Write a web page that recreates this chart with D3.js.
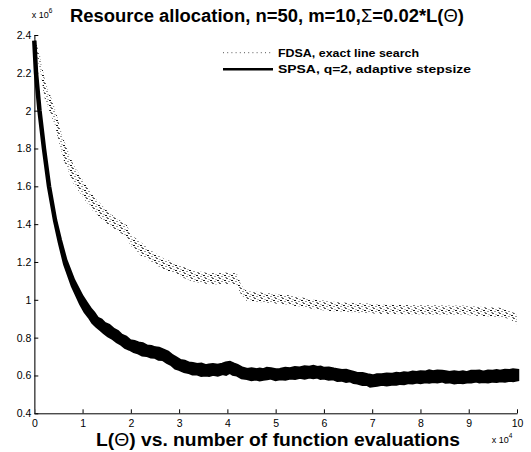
<!DOCTYPE html>
<html>
<head>
<meta charset="utf-8">
<script src="https://cdn.jsdelivr.net/npm/d3@7"></script>
<style>
body { margin: 0; background: #fff; }
text { font-family: "Liberation Sans", Arial, Helvetica, sans-serif; fill: #000; }
</style>
</head>
<body>
<script>
// values: x in units of 1e4 evaluations, L in units of 1e6
var xTicks = [0, 1, 2, 3, 4, 5, 6, 7, 8, 9, 10];
var xTickLabels = ["0", "1", "2", "3", "4", "5", "6", "7", "8", "9", "10"];
var yTicks = [0.4, 0.6, 0.8, 1.0, 1.2, 1.4, 1.6, 1.8, 2.0, 2.2, 2.4];
var yTickLabels = ["0.4", "0.6", "0.8", "1", "1.2", "1.4", "1.6", "1.8", "2", "2.2", "2.4"];

var seriesNames = ["FDSA, exact line search", "SPSA, q=2, adaptive stepsize"];

// FDSA band (upper / lower edge of the scatter)
var fdsaX  = [0.01, 0.12, 0.22, 0.43, 0.59, 0.8, 0.99, 1.22, 1.51, 1.72, 1.9, 2.0, 2.2, 2.4, 2.7, 2.87, 3.1, 3.3, 3.55, 3.74,
              3.95, 4.2, 4.28, 4.4, 4.6, 4.82, 5.1, 5.5, 5.8, 6.19, 6.5, 6.89, 7.2, 7.58, 7.9, 8.26, 8.6, 8.96, 9.3, 9.65, 9.86, 10];
var fdsaHi = [2.38, 2.29, 2.16, 2.01, 1.86, 1.72, 1.64, 1.55, 1.47, 1.425, 1.405, 1.345, 1.305, 1.265, 1.215, 1.2, 1.175, 1.155, 1.145, 1.14,
              1.145, 1.14, 1.08, 1.045, 1.042, 1.035, 1.03, 1.015, 1.0, 0.99, 0.985, 0.98, 0.975, 0.972, 0.97, 0.97, 0.968, 0.968, 0.962, 0.958, 0.945, 0.92];
var fdsaLo = [2.35, 2.21, 2.06, 1.92, 1.75, 1.62, 1.55, 1.47, 1.4, 1.365, 1.335, 1.285, 1.235, 1.205, 1.155, 1.145, 1.115, 1.095, 1.085, 1.08,
              1.085, 1.08, 1.03, 0.995, 0.99, 0.985, 0.978, 0.965, 0.95, 0.94, 0.935, 0.93, 0.925, 0.924, 0.922, 0.92, 0.92, 0.92, 0.914, 0.908, 0.9, 0.87];

// SPSA band (upper / lower edge of the noisy trace)
var spsaX  = [0, 0.035, 0.108, 0.2, 0.305, 0.43, 0.53, 0.64, 0.8, 0.97, 1.06, 1.15, 1.22, 1.3, 1.38, 1.45, 1.54, 1.63, 1.72, 1.8,
              1.89, 1.98, 2.07, 2.15, 2.24, 2.33, 2.42, 2.5, 2.58, 2.67, 2.76, 2.85, 2.93, 3.02, 3.11, 3.2, 3.28, 3.37, 3.46, 3.55,
              3.62, 3.7, 3.8, 3.9, 3.97, 4.05, 4.12, 4.2, 4.3, 4.41, 4.5, 4.6, 4.67, 4.74, 4.82, 4.9, 5.0, 5.09, 5.2, 5.3,
              5.4, 5.5, 5.6, 5.7, 5.78, 5.86, 5.93, 6.0, 6.1, 6.2, 6.28, 6.37, 6.46, 6.54, 6.62, 6.7, 6.8, 6.9, 6.96, 7.02,
              7.1, 7.2, 7.3, 7.4, 7.5, 7.58, 7.66, 7.75, 7.84, 7.92, 8.0, 8.1, 8.18, 8.26, 8.35, 8.45, 8.52, 8.6, 8.7, 8.8,
              8.88, 8.96, 9.05, 9.15, 9.22, 9.3, 9.4, 9.5, 9.58, 9.65, 9.75, 9.85, 9.92, 10];
var spsaHi = [2.37, 2.2, 2.0, 1.8, 1.6, 1.42, 1.315, 1.21, 1.105, 1.02, 0.985, 0.95, 0.93, 0.9, 0.89, 0.872, 0.862, 0.842, 0.83, 0.81,
              0.8, 0.78, 0.776, 0.768, 0.764, 0.752, 0.75, 0.742, 0.74, 0.73, 0.72, 0.702, 0.69, 0.676, 0.672, 0.662, 0.66, 0.654, 0.656, 0.648,
              0.652, 0.654, 0.65, 0.656, 0.662, 0.666, 0.658, 0.65, 0.636, 0.628, 0.632, 0.627, 0.63, 0.626, 0.634, 0.632, 0.626, 0.628, 0.634, 0.632,
              0.638, 0.636, 0.642, 0.64, 0.644, 0.638, 0.64, 0.634, 0.636, 0.63, 0.626, 0.622, 0.624, 0.618, 0.612, 0.606, 0.606, 0.6, 0.598, 0.594,
              0.6, 0.6, 0.604, 0.602, 0.608, 0.605, 0.61, 0.608, 0.614, 0.612, 0.616, 0.614, 0.62, 0.616, 0.62, 0.618, 0.616, 0.612, 0.616, 0.612,
              0.616, 0.611, 0.618, 0.618, 0.62, 0.614, 0.62, 0.618, 0.622, 0.619, 0.624, 0.622, 0.626, 0.624];
var spsaLo = [2.37, 2.2, 2.0, 1.8, 1.6, 1.42, 1.305, 1.19, 1.075, 0.98, 0.94, 0.91, 0.882, 0.862, 0.845, 0.83, 0.812, 0.8, 0.782, 0.77,
              0.752, 0.742, 0.73, 0.724, 0.712, 0.71, 0.702, 0.7, 0.69, 0.688, 0.672, 0.66, 0.642, 0.635, 0.624, 0.62, 0.612, 0.612, 0.604, 0.606,
              0.604, 0.61, 0.606, 0.614, 0.61, 0.622, 0.61, 0.606, 0.592, 0.588, 0.582, 0.585, 0.58, 0.584, 0.586, 0.59, 0.582, 0.586, 0.584, 0.59,
              0.588, 0.594, 0.59, 0.596, 0.592, 0.596, 0.588, 0.59, 0.584, 0.586, 0.578, 0.579, 0.572, 0.576, 0.566, 0.564, 0.556, 0.556, 0.548, 0.55,
              0.552, 0.557, 0.554, 0.558, 0.558, 0.562, 0.56, 0.566, 0.564, 0.569, 0.566, 0.571, 0.568, 0.572, 0.57, 0.575, 0.568, 0.57, 0.564, 0.568,
              0.566, 0.569, 0.57, 0.575, 0.57, 0.572, 0.57, 0.574, 0.572, 0.576, 0.574, 0.578, 0.576, 0.58];

var width = 531, height = 452;

var svg = d3.select("body")
            .append("svg")
            .attr("width", width)
            .attr("height", height);

var x = d3.scaleLinear().domain([0, 10]).range([34.3, 517]);
var y = d3.scaleLinear().domain([0.4, 2.4]).range([413.3, 35]);

// speckle texture for the FDSA scatter
var pat = svg.append("defs").append("pattern")
    .attr("id", "speckle")
    .attr("patternUnits", "userSpaceOnUse")
    .attr("width", 7)
    .attr("height", 5);
[[0, 0, "#111"], [4, 1, "#999"], [2, 3, "#555"], [5, 4, "#bbb"], [1, 2, "#888"]].forEach(function(p) {
    pat.append("rect")
        .attr("x", p[0]).attr("y", p[1])
        .attr("width", 2).attr("height", 1)
        .attr("fill", p[2]);
});

// axes
var xAxis = svg.append("g")
    .attr("transform", "translate(0," + y(0.4) + ")")
    .call(d3.axisBottom(x)
        .tickValues(xTicks)
        .tickFormat(function(d, i) { return xTickLabels[i]; })
        .tickSize(-4)
        .tickSizeOuter(0)
        .tickPadding(6));

var yAxis = svg.append("g")
    .attr("transform", "translate(" + x(0) + ",0)")
    .call(d3.axisLeft(y)
        .tickValues(yTicks)
        .tickFormat(function(d, i) { return yTickLabels[i]; })
        .tickSize(-4)
        .tickSizeOuter(0)
        .tickPadding(3));

svg.selectAll(".tick text").attr("font-size", 10.5).attr("font-family", null);
xAxis.select(".domain").attr("stroke", "#000");
yAxis.select(".domain").attr("stroke", "#555").attr("stroke-width", 1.6);

var band = d3.area()
    .x(function(d) { return x(d.x); })
    .y0(function(d) { return y(d.lo); })
    .y1(function(d) { return y(d.hi); });

// FDSA band
var fdsaRows = fdsaX.map(function(v, i) { return {x: v, hi: fdsaHi[i], lo: fdsaLo[i]}; });
svg.append("path")
    .datum(fdsaRows)
    .attr("d", band)
    .attr("fill", "url(#speckle)")
    .attr("stroke", "none");

// SPSA band
var spsaRows = spsaX.map(function(v, i) { return {x: v, hi: spsaHi[i], lo: spsaLo[i]}; });
svg.append("path")
    .datum(spsaRows)
    .attr("d", band)
    .attr("fill", "#000")
    .attr("stroke", "#000")
    .attr("stroke-width", 4.5)
    .attr("stroke-linejoin", "miter");

// legend
var legend = svg.append("g");
legend.append("line")
    .attr("x1", 223).attr("x2", 272).attr("y1", 52.7).attr("y2", 52.7)
    .attr("stroke", "#555").attr("stroke-width", 1).attr("stroke-dasharray", "1,3.2");
legend.append("line")
    .attr("x1", 223).attr("x2", 273).attr("y1", 69.3).attr("y2", 69.3)
    .attr("stroke", "#000").attr("stroke-width", 2.5);
legend.selectAll("text.lab")
    .data(seriesNames)
    .enter().append("text")
    .attr("class", "lab")
    .attr("x", 278)
    .attr("y", function(d, i) { return i ? 72.7 : 56.5; })
    .attr("font-size", 10.5)
    .attr("font-weight", "bold")
    .attr("textLength", function(d, i) { return i ? 193 : 141; })
    .attr("lengthAdjust", "spacingAndGlyphs")
    .text(function(d) { return d; });

// title
var title = svg.append("text")
    .attr("x", 70).attr("y", 21.7)
    .attr("font-size", 17.5)
    .attr("font-weight", "bold")
    .attr("textLength", 394)
    .attr("lengthAdjust", "spacingAndGlyphs");
title.append("tspan").text("Resource allocation, n=50, m=10,");
title.append("tspan").attr("font-weight", "normal").text("\u03A3");
title.append("tspan").text("=0.02*L(");
title.append("tspan").attr("font-weight", "normal").text("\u0398");
title.append("tspan").text(")");

// x label
var xlab = svg.append("text")
    .attr("x", 96).attr("y", 446)
    .attr("font-size", 17.5)
    .attr("font-weight", "bold")
    .attr("textLength", 364)
    .attr("lengthAdjust", "spacingAndGlyphs");
xlab.append("tspan").text("L(");
xlab.append("tspan").attr("font-weight", "normal").text("\u0398");
xlab.append("tspan").text(") vs. number of function evaluations");

// exponent labels
var e6 = svg.append("text").attr("x", 31.7).attr("y", 18.3).attr("font-size", 9);
e6.append("tspan").text("x 10");
e6.append("tspan").attr("font-size", 6.5).attr("dy", -5).text("6");

var e4 = svg.append("text").attr("x", 491.7).attr("y", 443.3).attr("font-size", 9);
e4.append("tspan").text("x 10");
e4.append("tspan").attr("font-size", 6.5).attr("dy", -5).text("4");
</script>
</body>
</html>
